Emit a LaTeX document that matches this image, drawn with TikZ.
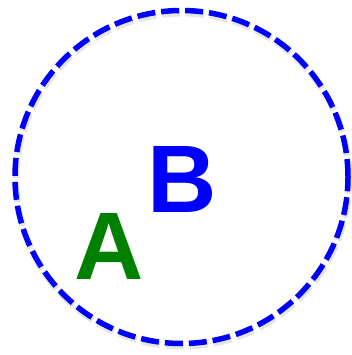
\documentclass[tikz,border=0pt]{standalone}
\usepackage{fontspec}
\newfontfamily\letterfont{Liberation Sans}
\tikzset{
  ring/.style={circle, minimum size=333pt, inner sep=0, draw=ringcol,
               line width=5.5pt, dash pattern=on 18pt off 6pt},
  ring shadow/.style={ring, draw=gray!45, opacity=0.45, line width=7pt},
  letter/.style={anchor=base, inner sep=0, font=\letterfont\bfseries\fontsize{96}{96}\selectfont},
}
\colorlet{ringcol}{blue}
\colorlet{acol}{green!50!black}

\begin{document}
\begin{tikzpicture}[x=1pt, y=1pt]
    \useasboundingbox (0,0) rectangle (352,355);

    % ======== DASHED RING ========
    \node[ring shadow] (ringshadow) at (182.5, 175.5) {};
    \node[ring] (ring) at (181.5, 178) {};

    % ======== LETTERS ========
    \node[letter, text=acol] (a) at (109.5, 75) {A};
    \node[letter, text=ringcol] (b) at (182, 142) {B};

  \end{tikzpicture}
\end{document}
